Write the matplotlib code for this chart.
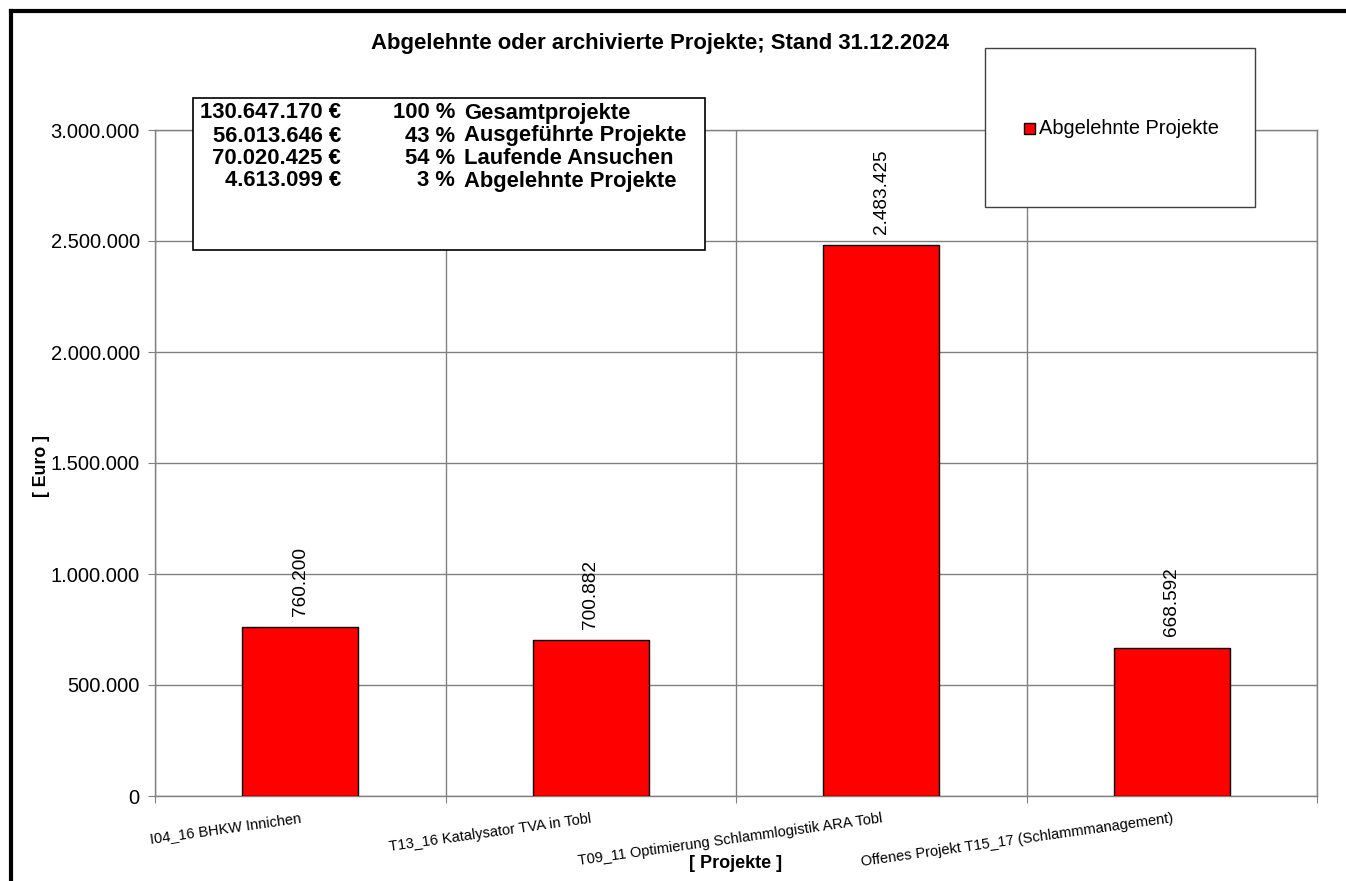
import numpy as np
import matplotlib.pyplot as plt
from matplotlib.lines import Line2D
from matplotlib.patches import Rectangle
from matplotlib.ticker import FuncFormatter

plt.rcParams['font.family'] = ['Liberation Sans', 'DejaVu Sans']

# data
projects = [
    "I04_16 BHKW Innichen",
    "T13_16 Katalysator TVA in Tobl",
    "T09_11 Optimierung Schlammlogistik ARA Tobl",
    "Offenes Projekt T15_17 (Schlammmanagement)",
]
values = [760200, 700882, 2483425, 668592]

summary_amounts = ["130.647.170 €", "56.013.646 €", "70.020.425 €", "4.613.099 €"]
summary_pct = ["100 %", "43 %", "54 %", "3 %"]
summary_labels = ["Gesamtprojekte", "Ausgeführte Projekte", "Laufende Ansuchen", "Abgelehnte Projekte"]

title = "Abgelehnte oder archivierte Projekte; Stand 31.12.2024"
series_name = "Abgelehnte Projekte"

W, H = 1346, 881
fig = plt.figure(figsize=(W / 100, H / 100), dpi=100)


def fx(px):
    return px / W


def fy(py):
    return 1 - py / H


GRID = "#808080"
ax = fig.add_axes([fx(155), fy(796), fx(1317) - fx(155), fy(130) - fy(796)])

x = np.arange(len(values))
ax.bar(x, values, width=0.4, color="#ff0000", edgecolor="black", lw=1.0, zorder=3)

for xi, v in zip(x, values):
    ax.annotate(f"{v:,}".replace(",", "."), (xi, v), xytext=(0, 8),
                textcoords="offset points", rotation=90, ha="center", va="bottom",
                fontsize=13.7, zorder=4)

ax.set_xlim(-0.5, len(values) - 0.5)
ax.set_ylim(0, 3000000)
ax.set_yticks(np.arange(0, 3000001, 500000))
ax.yaxis.set_major_formatter(FuncFormatter(lambda v, p: f"{int(v):,}".replace(",", ".")))
ax.tick_params(axis="y", labelsize=14.5, length=5, color=GRID, pad=6)

# boundaries as major ticks, labels on minor ticks at the category centers
ax.set_xticks(np.arange(-0.5, len(values), 1.0))
ax.set_xticklabels([])
ax.tick_params(axis="x", which="major", length=5, color=GRID)
ax.set_xticks(x, minor=True)
ax.set_xticklabels(projects, minor=True, rotation=8, ha="right", va="top",
                   rotation_mode="anchor", fontsize=10.5)
ax.tick_params(axis="x", which="minor", length=0, pad=11)

ax.grid(axis="y", color=GRID, lw=1.0, zorder=0)
ax.grid(axis="x", which="major", color=GRID, lw=1.0, zorder=0)
for s in ["top", "right", "left", "bottom"]:
    ax.spines[s].set_color(GRID)
    ax.spines[s].set_linewidth(1.0)

# title and axis labels
fig.text(fx(660), fy(43), title, ha="center", va="center", fontsize=15.9, fontweight="bold")
fig.text(fx(42), fy(466), "[ Euro ]", ha="center", va="center", rotation=90,
         fontsize=12.8, fontweight="bold")
fig.text(fx(736), fy(864), "[ Projekte ]", ha="center", va="center",
         fontsize=13, fontweight="bold")

# summary text box
fig.add_artist(Rectangle((fx(193), fy(250)), fx(705) - fx(193), fy(98) - fy(250),
                         facecolor="white", edgecolor="black", lw=1.2, zorder=5))
row_y = [113, 136, 159, 181]
for ry, a, p, l in zip(row_y, summary_amounts, summary_pct, summary_labels):
    fig.text(fx(341), fy(ry), a, ha="right", va="center", fontsize=15.8,
             fontweight="bold", zorder=6)
    fig.text(fx(455), fy(ry), p, ha="right", va="center", fontsize=15.8,
             fontweight="bold", zorder=6)
    fig.text(fx(464), fy(ry), l, ha="left", va="center", fontsize=15.8,
             fontweight="bold", zorder=6)

# legend box
fig.add_artist(Rectangle((fx(985), fy(207)), fx(1255) - fx(985), fy(48) - fy(207),
                         facecolor="white", edgecolor="#404040", lw=1.0, zorder=5))
fig.add_artist(Rectangle((fx(1024), fy(134)), fx(1035) - fx(1024), fy(123) - fy(134),
                         facecolor="#ff0000", edgecolor="black", lw=1.0, zorder=6))
fig.text(fx(1039), fy(129), series_name, ha="left", va="center", fontsize=14.4, zorder=6)

# outer frame
fig.add_artist(Line2D([fx(11), fx(11)], [fy(11), 0], color="black", lw=3))
fig.add_artist(Line2D([fx(11), 1], [fy(11), fy(11)], color="black", lw=3))

fig.savefig("out.png", dpi=100, facecolor="white")
